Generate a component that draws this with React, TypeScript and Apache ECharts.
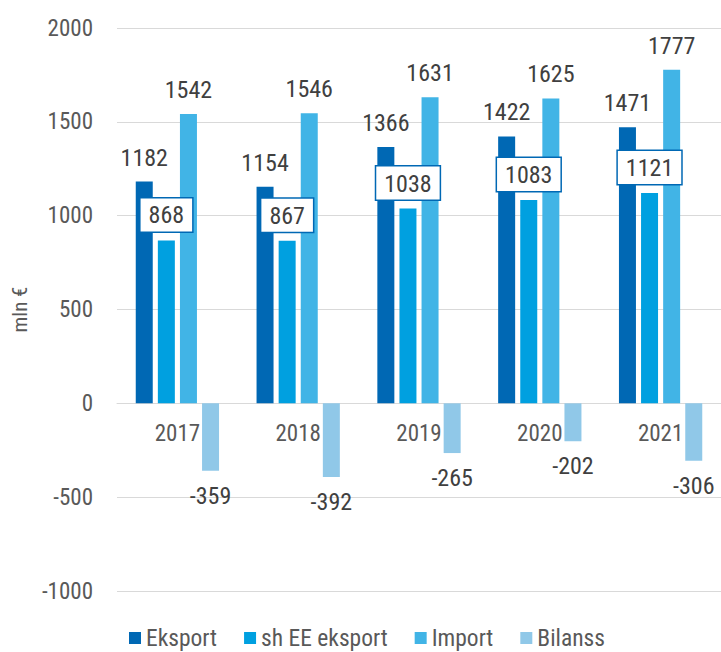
import React, { useEffect, useRef } from "react";
import * as echarts from "echarts";

const years = ["2017", "2018", "2019", "2020", "2021"];
const eksport = [1182, 1154, 1366, 1422, 1471];
const shEeEksport = [868, 867, 1038, 1083, 1121];
const importVals = [1542, 1546, 1631, 1625, 1777];
const bilanss = [-359, -392, -265, -202, -306];
const seriesNames = ["Eksport", "sh EE eksport", "Import", "Bilanss"];
const colors = ["#0068b4", "#00a0e0", "#41b4e6", "#90c8e8"];
const yMin = -1000;
const yMax = 2000;
const yStep = 500;

const FONT = "'Roboto Condensed', Roboto, sans-serif";
const GRID_TOP = 28;
const GRID_BOTTOM = 61;
const H = 652;

export default function App() {
  const ref = useRef<HTMLDivElement>(null);
  useEffect(() => {
    if (!ref.current) return;
    const chart = echarts.init(ref.current, null, { renderer: "svg" });
    const plotH = H - GRID_TOP - GRID_BOTTOM;
    const zeroOffset = -(plotH * (0 - yMin)) / (yMax - yMin);
    const labelBase = { show: true, fontSize: 24, color: "#404040", fontFamily: FONT };
    chart.setOption({
      animation: false,
      textStyle: { fontFamily: FONT },
      color: colors,
      grid: {
        left: 117,
        right: 0,
        top: GRID_TOP,
        bottom: GRID_BOTTOM,
        containLabel: false,
        outerBoundsMode: "none",
      },
      legend: {
        data: seriesNames,
        top: 621,
        left: 124,
        icon: "rect",
        itemWidth: 12,
        itemHeight: 12,
        itemGap: 27,
        textStyle: { fontSize: 23.5, color: "#595959", fontFamily: FONT },
      },
      xAxis: {
        type: "category",
        data: years,
        position: "bottom",
        offset: zeroOffset,
        axisLine: { show: true, onZero: false, lineStyle: { color: "#d9d9d9", width: 1 } },
        axisTick: { show: false },
        axisLabel: { fontSize: 23, color: "#595959", margin: 19, fontFamily: FONT },
      },
      yAxis: {
        type: "value",
        min: yMin,
        max: yMax,
        interval: yStep,
        name: "mln €",
        nameLocation: "middle",
        nameRotate: 90,
        nameGap: 87,
        nameTextStyle: { fontSize: 21, color: "#595959", fontFamily: FONT },
        axisLine: { show: false },
        axisTick: { show: false },
        axisLabel: {
          fontSize: 23,
          color: "#595959",
          margin: 24,
          fontFamily: FONT,
          formatter: (v: number) => String(v),
        },
        splitLine: { lineStyle: { color: "#d9d9d9", width: 1 } },
      },
      series: [
        {
          name: seriesNames[0],
          type: "bar",
          data: eksport,
          barWidth: 17,
          barGap: "30%",
          label: { ...labelBase, position: "top", distance: 12 },
        },
        {
          name: seriesNames[1],
          type: "bar",
          data: shEeEksport,
          barWidth: 17,
          barGap: "30%",
          z: 5,
          label: {
            ...labelBase,
            position: "top",
            distance: 9,
            backgroundColor: "#ffffff",
            borderColor: "#0068b4",
            borderWidth: 1.5,
            padding: [5, 8, 4, 8],
          },
        },
        {
          name: seriesNames[2],
          type: "bar",
          data: importVals,
          barWidth: 17,
          barGap: "30%",
          label: { ...labelBase, position: "top", distance: 12 },
        },
        {
          name: seriesNames[3],
          type: "bar",
          data: bilanss,
          barWidth: 17,
          barGap: "30%",
          label: { ...labelBase, position: "bottom", distance: 13 },
        },
      ],
    });
    return () => chart.dispose();
  }, []);
  return (
    <div
      ref={ref}
      style={{ position: "fixed", left: 0, top: 0, width: 721, height: 652, background: "#fff" }}
    />
  );
}
